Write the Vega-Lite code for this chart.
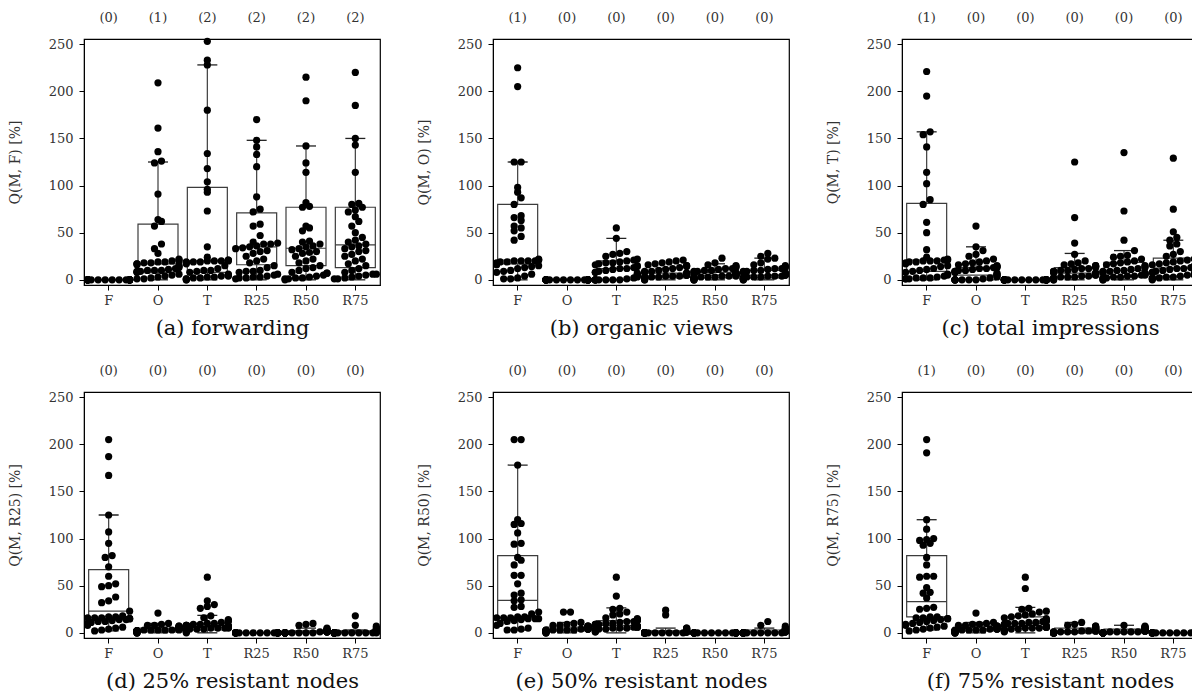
{
"$schema": "https://vega.github.io/schema/vega-lite/v6.json",
"autosize": {"type": "pad"},
"padding": {"left": 7, "top": 11, "right": 0, "bottom": 0},
"background": "white",
"datasets": {"g": [
{"p":"a","c":"F","o":0,"q1":0,"med":0,"q3":0,"lo":0,"hi":0,"v":[0,0,0,0,0,0,0,0,0,0,0,0,0,0,0,0,0,0,0,0,0,0,0,0]},
{"p":"a","c":"O","o":1,"q1":7.5,"med":17,"q3":59,"lo":0,"hi":125,"v":[209,161,136,126,124,91,64,62,57,38,33,28,22,21,20,20,19,19,18,18,17,17,16,15,14,13,12,11,10,10,10,9,9,8,8,6,5,4,3,2,1,1]},
{"p":"a","c":"T","o":2,"q1":8,"med":20,"q3":98,"lo":0,"hi":228,"v":[253,233,228,180,134,118,104,96,93,73,35,24,21,21,20,20,20,20,19,19,19,18,17,15,12,10,10,9,8,6,5,5,4,4,3,3,2,2,1,1,0,0]},
{"p":"a","c":"R25","o":2,"q1":16,"med":35,"q3":71,"lo":0,"hi":148,"v":[170,148,141,133,120,88,75,72,59,57,47,40,39,38,38,36,35,34,33,31,30,28,25,22,20,18,15,13,10,9,9,8,6,5,4,3,3,2,2,1]},
{"p":"a","c":"R50","o":2,"q1":15,"med":33.5,"q3":77,"lo":0,"hi":142,"v":[215,190,142,124,114,82,78,77,57,55,52,41,40,38,36,35,33,32,30,29,28,25,22,20,18,15,13,12,10,8,7,7,5,4,3,2,2,1,1,0]},
{"p":"a","c":"R75","o":2,"q1":13,"med":37,"q3":77,"lo":0,"hi":150,"v":[220,185,150,143,114,81,80,77,74,72,67,62,57,50,45,42,40,38,36,35,33,31,30,27,25,22,20,17,15,12,10,8,6,6,5,4,3,2,1,1]},
{"p":"b","c":"F","o":1,"q1":17,"med":21,"q3":80,"lo":0,"hi":125,"v":[225,205,125,125,98,93,87,80,68,66,63,57,55,52,46,42,22,21,21,20,20,20,20,19,19,18,17,16,15,14,13,12,10,9,8,6,4,2,1,1]},
{"p":"b","c":"O","o":0,"q1":0,"med":0,"q3":0,"lo":0,"hi":0,"v":[0,0,0,0,0,0,0,0,0,0,0,0,0,0,0,0,0,0,0,0,0,0,0,0]},
{"p":"b","c":"T","o":0,"q1":0,"med":12,"q3":20,"lo":0,"hi":44,"v":[55,44,30,28,27,25,22,21,20,19,18,18,17,16,15,14,13,12,12,11,10,9,8,8,7,6,5,4,3,2,1,0,0,0,0,0,0,0,0,0]},
{"p":"b","c":"R25","o":0,"q1":2,"med":4,"q3":7,"lo":0,"hi":12,"v":[21,20,19,18,17,16,15,15,14,13,12,11,10,9,9,8,8,7,7,6,6,6,5,5,5,5,4,4,4,3,3,3,2,2,2,1,1,1,0,0]},
{"p":"b","c":"R50","o":0,"q1":2,"med":5,"q3":8,"lo":0,"hi":17,"v":[23,18,16,15,14,13,12,12,11,10,10,9,9,8,8,7,7,7,6,6,6,5,5,5,4,4,4,3,3,3,3,2,2,2,1,1,1,0,0,0]},
{"p":"b","c":"R75","o":0,"q1":2,"med":5,"q3":10,"lo":0,"hi":23,"v":[28,25,23,22,18,16,15,14,13,12,12,11,10,10,9,9,8,8,7,7,6,6,6,5,5,5,4,4,4,3,3,3,2,2,2,1,1,1,0,0]},
{"p":"c","c":"F","o":1,"q1":9,"med":21,"q3":81,"lo":0,"hi":157,"v":[221,195,157,154,141,114,102,85,80,61,50,32,24,22,21,21,20,20,20,19,19,18,17,15,14,12,11,10,9,8,6,5,4,3,2,2,2,1,1,1]},
{"p":"c","c":"O","o":0,"q1":0,"med":5,"q3":13,"lo":0,"hi":35,"v":[57,35,31,27,25,22,20,19,18,17,16,15,14,14,13,13,12,12,11,10,10,9,9,8,8,7,6,5,4,3,2,1,0,0,0,0,0,0,0,0]},
{"p":"c","c":"T","o":0,"q1":0,"med":0,"q3":0,"lo":0,"hi":0,"v":[0,0,0,0,0,0,0,0,0,0,0,0,0,0,0,0,0,0,0,0,0,0,0,0]},
{"p":"c","c":"R25","o":0,"q1":3,"med":7,"q3":13,"lo":0,"hi":28,"v":[125,66,39,27,20,18,17,16,15,15,14,14,13,12,12,11,10,10,9,9,8,8,8,7,7,6,6,5,5,4,4,3,3,3,2,2,1,1,0,0]},
{"p":"c","c":"R50","o":0,"q1":3,"med":10,"q3":18.5,"lo":0,"hi":31,"v":[135,73,42,31,26,25,24,22,20,19,18,17,16,15,14,13,12,11,10,10,9,9,8,8,7,7,6,6,5,5,4,4,3,3,2,2,1,1,0,0]},
{"p":"c","c":"R75","o":0,"q1":4,"med":12.5,"q3":23,"lo":0,"hi":42,"v":[129,75,51,45,42,38,36,30,27,25,22,21,20,19,18,17,16,15,14,13,12,12,11,10,9,8,8,7,6,6,5,5,4,3,3,2,2,1,1,0]},
{"p":"d","c":"F","o":0,"q1":14,"med":23,"q3":67,"lo":2,"hi":125,"v":[205,187,167,125,107,95,82,80,70,60,52,50,49,38,34,32,23,18,17,17,16,16,16,15,15,15,14,14,13,12,12,11,10,9,8,6,5,4,3,2]},
{"p":"d","c":"O","o":0,"q1":1,"med":3,"q3":5,"lo":0,"hi":10,"v":[21,10,9,8,8,7,7,6,6,6,5,5,5,5,4,4,4,4,4,3,3,3,3,3,3,2,2,2,2,2,2,1,1,1,1,1,0,0,0,0]},
{"p":"d","c":"T","o":0,"q1":3,"med":6,"q3":10,"lo":0,"hi":18.5,"v":[59,34,30,28,26,18,16,14,13,12,11,10,10,9,9,8,8,8,7,7,7,6,6,6,6,5,5,5,5,4,4,4,3,3,3,2,2,1,1,0]},
{"p":"d","c":"R25","o":0,"q1":0,"med":0,"q3":0,"lo":0,"hi":0,"v":[0,0,0,0,0,0,0,0,0,0,0,0,0,0,0,0,0,0,0,0,0,0,0,0]},
{"p":"d","c":"R50","o":0,"q1":0,"med":1,"q3":2,"lo":0,"hi":5,"v":[10,9,8,5,4,3,3,3,2,2,2,2,2,1,1,1,1,1,1,1,0,0,0,0,0,0,0,0,0,0,0,0,0,0,0,0,0,0,0,0]},
{"p":"d","c":"R75","o":0,"q1":0,"med":1,"q3":2,"lo":0,"hi":3,"v":[18,8,7,5,4,3,3,2,2,2,2,1,1,1,1,1,1,0,0,0,0,0,0,0,0,0,0,0,0,0,0,0,0,0,0,0,0,0,0,0]},
{"p":"e","c":"F","o":0,"q1":16,"med":34.5,"q3":82,"lo":3,"hi":178,"v":[205,205,178,120,116,115,106,95,94,80,77,72,61,61,52,42,40,35,34,28,27,22,20,17,17,16,16,16,15,15,15,14,13,12,10,8,5,4,3,3]},
{"p":"e","c":"O","o":0,"q1":2,"med":4,"q3":6,"lo":0,"hi":11,"v":[22,22,11,10,9,8,8,7,7,7,6,6,6,5,5,5,5,4,4,4,4,4,3,3,3,3,3,3,2,2,2,2,2,1,1,1,1,0,0,0]},
{"p":"e","c":"T","o":0,"q1":4,"med":8,"q3":13,"lo":0,"hi":26.5,"v":[59,39,26,25,22,20,19,16,15,14,14,13,13,12,12,11,10,10,9,9,9,8,8,8,7,7,7,6,6,6,5,5,5,4,4,3,3,2,1,1]},
{"p":"e","c":"R25","o":0,"q1":0,"med":1,"q3":2,"lo":0,"hi":5,"v":[24,19,5,5,4,4,3,3,2,2,2,2,1,1,1,1,1,1,0,0,0,0,0,0,0,0,0,0,0,0,0,0,0,0,0,0,0,0,0,0]},
{"p":"e","c":"R50","o":0,"q1":0,"med":0,"q3":0,"lo":0,"hi":0,"v":[0,0,0,0,0,0,0,0,0,0,0,0,0,0,0,0,0,0,0,0,0,0,0,0]},
{"p":"e","c":"R75","o":0,"q1":0,"med":1,"q3":3,"lo":0,"hi":5,"v":[12,8,7,5,4,4,3,3,3,2,2,2,2,1,1,1,1,1,0,0,0,0,0,0,0,0,0,0,0,0,0,0,0,0,0,0,0,0,0,0]},
{"p":"f","c":"F","o":1,"q1":17,"med":33,"q3":82,"lo":3,"hi":120,"v":[205,191,120,110,100,99,98,95,93,80,72,60,60,59,48,43,42,37,27,26,25,17,17,16,16,15,15,14,13,12,11,10,9,8,7,6,5,4,3,2]},
{"p":"f","c":"O","o":0,"q1":2,"med":4,"q3":7,"lo":0,"hi":11,"v":[21,11,10,9,9,8,8,7,7,7,6,6,6,6,5,5,5,5,4,4,4,4,3,3,3,3,3,2,2,2,2,2,1,1,1,1,0,0,0,0]},
{"p":"f","c":"T","o":0,"q1":5,"med":10,"q3":17,"lo":0,"hi":27,"v":[59,47,26,25,23,22,20,19,18,17,16,15,14,13,12,12,11,11,10,10,10,9,9,8,8,7,7,6,6,6,5,5,5,4,4,3,3,2,2,1]},
{"p":"f","c":"R25","o":0,"q1":0,"med":2,"q3":5,"lo":0,"hi":11,"v":[11,9,8,7,7,6,6,5,5,4,4,4,3,3,3,3,2,2,2,2,2,1,1,1,1,1,0,0,0,0,0,0,0,0,0,0,0,0,0,0]},
{"p":"f","c":"R50","o":0,"q1":0,"med":1,"q3":4,"lo":0,"hi":8,"v":[8,7,6,6,5,5,4,4,4,3,3,3,3,2,2,2,2,2,1,1,1,1,1,0,0,0,0,0,0,0,0,0,0,0,0,0,0,0,0,0]},
{"p":"f","c":"R75","o":0,"q1":0,"med":0,"q3":0,"lo":0,"hi":0,"v":[0,0,0,0,0,0,0,0,0,0,0,0,0,0,0,0,0,0,0,0,0,0,0,0]}
]},
"data": {"name": "g"},
"columns": 3,
"spacing": {"row": 107, "column": 113},
"bounds": "flush",
"concat": [
{"width":296,"height":246,"transform":[{"filter":"datum.p === 'a'"}],
 "encoding":{"x":{"field":"c","type":"nominal","scale":{"domain":["F","O","T","R25","R50","R75"],"paddingInner":0,"paddingOuter":0},"axis":{"title":"(a) forwarding","labelAngle":0}}},
 "layer":[
  {"mark":{"type":"bar","width":40,"fill":"white","fillOpacity":0,"stroke":"#3c3c3c","strokeWidth":1.2},"encoding":{"y":{"field":"q1","type":"quantitative","scale":{"domain":[-5.5,255.5],"nice":false,"zero":false},"title":"Q(M, F) [%]"},"y2":{"field":"q3"}}},
  {"mark":{"type":"rule","color":"#3c3c3c","strokeWidth":1.2},"encoding":{"y":{"field":"q3","type":"quantitative","title":"Q(M, F) [%]"},"y2":{"field":"hi"}}},
  {"mark":{"type":"rule","color":"#3c3c3c","strokeWidth":1.2},"encoding":{"y":{"field":"lo","type":"quantitative","title":"Q(M, F) [%]"},"y2":{"field":"q1"}}},
  {"mark":{"type":"tick","size":20,"thickness":1.3,"color":"#222","opacity":1},"encoding":{"y":{"field":"hi","type":"quantitative","title":"Q(M, F) [%]"}}},
  {"mark":{"type":"tick","size":20,"thickness":1.3,"color":"#222","opacity":1},"encoding":{"y":{"field":"lo","type":"quantitative","title":"Q(M, F) [%]"}}},
  {"mark":{"type":"tick","size":40,"thickness":1.2,"color":"#3c3c3c","opacity":1},"encoding":{"y":{"field":"med","type":"quantitative","title":"Q(M, F) [%]"}}},
  {"transform":[{"flatten":["v"]},{"bin":{"step":8,"extent":[-4,260]},"field":"v","as":"vb"},{"window":[{"op":"row_number","as":"rn"}],"groupby":["c","vb"],"sort":[{"field":"v","order":"ascending"}]},{"joinaggregate":[{"op":"count","as":"cnt"}],"groupby":["c","vb"]},{"calculate":"datum.rn - 1 - (datum.cnt - 1) / 2","as":"off"}],
   "mark":{"type":"circle","size":52,"color":"#000","opacity":1},
   "encoding":{"y":{"field":"v","type":"quantitative","title":"Q(M, F) [%]"},"xOffset":{"field":"off","type":"quantitative","scale":{"domain":[-3,3],"range":[3.65,45.65],"clamp":true}}}},
  {"transform":[{"calculate":"'(' + datum.o + ')'","as":"lab"}],"mark":{"type":"text","fontSize":13,"color":"#333"},"encoding":{"y":{"datum":278,"type":"quantitative"},"text":{"field":"lab"}}}
 ]},
{"width":296,"height":246,"transform":[{"filter":"datum.p === 'b'"}],
 "encoding":{"x":{"field":"c","type":"nominal","scale":{"domain":["F","O","T","R25","R50","R75"],"paddingInner":0,"paddingOuter":0},"axis":{"title":"(b) organic views","labelAngle":0}}},
 "layer":[
  {"mark":{"type":"bar","width":40,"fill":"white","fillOpacity":0,"stroke":"#3c3c3c","strokeWidth":1.2},"encoding":{"y":{"field":"q1","type":"quantitative","scale":{"domain":[-5.5,255.5],"nice":false,"zero":false},"title":"Q(M, O) [%]"},"y2":{"field":"q3"}}},
  {"mark":{"type":"rule","color":"#3c3c3c","strokeWidth":1.2},"encoding":{"y":{"field":"q3","type":"quantitative","title":"Q(M, O) [%]"},"y2":{"field":"hi"}}},
  {"mark":{"type":"rule","color":"#3c3c3c","strokeWidth":1.2},"encoding":{"y":{"field":"lo","type":"quantitative","title":"Q(M, O) [%]"},"y2":{"field":"q1"}}},
  {"mark":{"type":"tick","size":20,"thickness":1.3,"color":"#222","opacity":1},"encoding":{"y":{"field":"hi","type":"quantitative","title":"Q(M, O) [%]"}}},
  {"mark":{"type":"tick","size":20,"thickness":1.3,"color":"#222","opacity":1},"encoding":{"y":{"field":"lo","type":"quantitative","title":"Q(M, O) [%]"}}},
  {"mark":{"type":"tick","size":40,"thickness":1.2,"color":"#3c3c3c","opacity":1},"encoding":{"y":{"field":"med","type":"quantitative","title":"Q(M, O) [%]"}}},
  {"transform":[{"flatten":["v"]},{"bin":{"step":8,"extent":[-4,260]},"field":"v","as":"vb"},{"window":[{"op":"row_number","as":"rn"}],"groupby":["c","vb"],"sort":[{"field":"v","order":"ascending"}]},{"joinaggregate":[{"op":"count","as":"cnt"}],"groupby":["c","vb"]},{"calculate":"datum.rn - 1 - (datum.cnt - 1) / 2","as":"off"}],
   "mark":{"type":"circle","size":52,"color":"#000","opacity":1},
   "encoding":{"y":{"field":"v","type":"quantitative","title":"Q(M, O) [%]"},"xOffset":{"field":"off","type":"quantitative","scale":{"domain":[-3,3],"range":[3.65,45.65],"clamp":true}}}},
  {"transform":[{"calculate":"'(' + datum.o + ')'","as":"lab"}],"mark":{"type":"text","fontSize":13,"color":"#333"},"encoding":{"y":{"datum":278,"type":"quantitative"},"text":{"field":"lab"}}}
 ]},
{"width":296,"height":246,"transform":[{"filter":"datum.p === 'c'"}],
 "encoding":{"x":{"field":"c","type":"nominal","scale":{"domain":["F","O","T","R25","R50","R75"],"paddingInner":0,"paddingOuter":0},"axis":{"title":"(c) total impressions","labelAngle":0}}},
 "layer":[
  {"mark":{"type":"bar","width":40,"fill":"white","fillOpacity":0,"stroke":"#3c3c3c","strokeWidth":1.2},"encoding":{"y":{"field":"q1","type":"quantitative","scale":{"domain":[-5.5,255.5],"nice":false,"zero":false},"title":"Q(M, T) [%]"},"y2":{"field":"q3"}}},
  {"mark":{"type":"rule","color":"#3c3c3c","strokeWidth":1.2},"encoding":{"y":{"field":"q3","type":"quantitative","title":"Q(M, T) [%]"},"y2":{"field":"hi"}}},
  {"mark":{"type":"rule","color":"#3c3c3c","strokeWidth":1.2},"encoding":{"y":{"field":"lo","type":"quantitative","title":"Q(M, T) [%]"},"y2":{"field":"q1"}}},
  {"mark":{"type":"tick","size":20,"thickness":1.3,"color":"#222","opacity":1},"encoding":{"y":{"field":"hi","type":"quantitative","title":"Q(M, T) [%]"}}},
  {"mark":{"type":"tick","size":20,"thickness":1.3,"color":"#222","opacity":1},"encoding":{"y":{"field":"lo","type":"quantitative","title":"Q(M, T) [%]"}}},
  {"mark":{"type":"tick","size":40,"thickness":1.2,"color":"#3c3c3c","opacity":1},"encoding":{"y":{"field":"med","type":"quantitative","title":"Q(M, T) [%]"}}},
  {"transform":[{"flatten":["v"]},{"bin":{"step":8,"extent":[-4,260]},"field":"v","as":"vb"},{"window":[{"op":"row_number","as":"rn"}],"groupby":["c","vb"],"sort":[{"field":"v","order":"ascending"}]},{"joinaggregate":[{"op":"count","as":"cnt"}],"groupby":["c","vb"]},{"calculate":"datum.rn - 1 - (datum.cnt - 1) / 2","as":"off"}],
   "mark":{"type":"circle","size":52,"color":"#000","opacity":1},
   "encoding":{"y":{"field":"v","type":"quantitative","title":"Q(M, T) [%]"},"xOffset":{"field":"off","type":"quantitative","scale":{"domain":[-3,3],"range":[3.65,45.65],"clamp":true}}}},
  {"transform":[{"calculate":"'(' + datum.o + ')'","as":"lab"}],"mark":{"type":"text","fontSize":13,"color":"#333"},"encoding":{"y":{"datum":278,"type":"quantitative"},"text":{"field":"lab"}}}
 ]},
{"width":296,"height":246,"transform":[{"filter":"datum.p === 'd'"}],
 "encoding":{"x":{"field":"c","type":"nominal","scale":{"domain":["F","O","T","R25","R50","R75"],"paddingInner":0,"paddingOuter":0},"axis":{"title":"(d) 25% resistant nodes","labelAngle":0}}},
 "layer":[
  {"mark":{"type":"bar","width":40,"fill":"white","fillOpacity":0,"stroke":"#3c3c3c","strokeWidth":1.2},"encoding":{"y":{"field":"q1","type":"quantitative","scale":{"domain":[-5.5,255.5],"nice":false,"zero":false},"title":"Q(M, R25) [%]"},"y2":{"field":"q3"}}},
  {"mark":{"type":"rule","color":"#3c3c3c","strokeWidth":1.2},"encoding":{"y":{"field":"q3","type":"quantitative","title":"Q(M, R25) [%]"},"y2":{"field":"hi"}}},
  {"mark":{"type":"rule","color":"#3c3c3c","strokeWidth":1.2},"encoding":{"y":{"field":"lo","type":"quantitative","title":"Q(M, R25) [%]"},"y2":{"field":"q1"}}},
  {"mark":{"type":"tick","size":20,"thickness":1.3,"color":"#222","opacity":1},"encoding":{"y":{"field":"hi","type":"quantitative","title":"Q(M, R25) [%]"}}},
  {"mark":{"type":"tick","size":20,"thickness":1.3,"color":"#222","opacity":1},"encoding":{"y":{"field":"lo","type":"quantitative","title":"Q(M, R25) [%]"}}},
  {"mark":{"type":"tick","size":40,"thickness":1.2,"color":"#3c3c3c","opacity":1},"encoding":{"y":{"field":"med","type":"quantitative","title":"Q(M, R25) [%]"}}},
  {"transform":[{"flatten":["v"]},{"bin":{"step":8,"extent":[-4,260]},"field":"v","as":"vb"},{"window":[{"op":"row_number","as":"rn"}],"groupby":["c","vb"],"sort":[{"field":"v","order":"ascending"}]},{"joinaggregate":[{"op":"count","as":"cnt"}],"groupby":["c","vb"]},{"calculate":"datum.rn - 1 - (datum.cnt - 1) / 2","as":"off"}],
   "mark":{"type":"circle","size":52,"color":"#000","opacity":1},
   "encoding":{"y":{"field":"v","type":"quantitative","title":"Q(M, R25) [%]"},"xOffset":{"field":"off","type":"quantitative","scale":{"domain":[-3,3],"range":[3.65,45.65],"clamp":true}}}},
  {"transform":[{"calculate":"'(' + datum.o + ')'","as":"lab"}],"mark":{"type":"text","fontSize":13,"color":"#333"},"encoding":{"y":{"datum":278,"type":"quantitative"},"text":{"field":"lab"}}}
 ]},
{"width":296,"height":246,"transform":[{"filter":"datum.p === 'e'"}],
 "encoding":{"x":{"field":"c","type":"nominal","scale":{"domain":["F","O","T","R25","R50","R75"],"paddingInner":0,"paddingOuter":0},"axis":{"title":"(e) 50% resistant nodes","labelAngle":0}}},
 "layer":[
  {"mark":{"type":"bar","width":40,"fill":"white","fillOpacity":0,"stroke":"#3c3c3c","strokeWidth":1.2},"encoding":{"y":{"field":"q1","type":"quantitative","scale":{"domain":[-5.5,255.5],"nice":false,"zero":false},"title":"Q(M, R50) [%]"},"y2":{"field":"q3"}}},
  {"mark":{"type":"rule","color":"#3c3c3c","strokeWidth":1.2},"encoding":{"y":{"field":"q3","type":"quantitative","title":"Q(M, R50) [%]"},"y2":{"field":"hi"}}},
  {"mark":{"type":"rule","color":"#3c3c3c","strokeWidth":1.2},"encoding":{"y":{"field":"lo","type":"quantitative","title":"Q(M, R50) [%]"},"y2":{"field":"q1"}}},
  {"mark":{"type":"tick","size":20,"thickness":1.3,"color":"#222","opacity":1},"encoding":{"y":{"field":"hi","type":"quantitative","title":"Q(M, R50) [%]"}}},
  {"mark":{"type":"tick","size":20,"thickness":1.3,"color":"#222","opacity":1},"encoding":{"y":{"field":"lo","type":"quantitative","title":"Q(M, R50) [%]"}}},
  {"mark":{"type":"tick","size":40,"thickness":1.2,"color":"#3c3c3c","opacity":1},"encoding":{"y":{"field":"med","type":"quantitative","title":"Q(M, R50) [%]"}}},
  {"transform":[{"flatten":["v"]},{"bin":{"step":8,"extent":[-4,260]},"field":"v","as":"vb"},{"window":[{"op":"row_number","as":"rn"}],"groupby":["c","vb"],"sort":[{"field":"v","order":"ascending"}]},{"joinaggregate":[{"op":"count","as":"cnt"}],"groupby":["c","vb"]},{"calculate":"datum.rn - 1 - (datum.cnt - 1) / 2","as":"off"}],
   "mark":{"type":"circle","size":52,"color":"#000","opacity":1},
   "encoding":{"y":{"field":"v","type":"quantitative","title":"Q(M, R50) [%]"},"xOffset":{"field":"off","type":"quantitative","scale":{"domain":[-3,3],"range":[3.65,45.65],"clamp":true}}}},
  {"transform":[{"calculate":"'(' + datum.o + ')'","as":"lab"}],"mark":{"type":"text","fontSize":13,"color":"#333"},"encoding":{"y":{"datum":278,"type":"quantitative"},"text":{"field":"lab"}}}
 ]},
{"width":296,"height":246,"transform":[{"filter":"datum.p === 'f'"}],
 "encoding":{"x":{"field":"c","type":"nominal","scale":{"domain":["F","O","T","R25","R50","R75"],"paddingInner":0,"paddingOuter":0},"axis":{"title":"(f) 75% resistant nodes","labelAngle":0}}},
 "layer":[
  {"mark":{"type":"bar","width":40,"fill":"white","fillOpacity":0,"stroke":"#3c3c3c","strokeWidth":1.2},"encoding":{"y":{"field":"q1","type":"quantitative","scale":{"domain":[-5.5,255.5],"nice":false,"zero":false},"title":"Q(M, R75) [%]"},"y2":{"field":"q3"}}},
  {"mark":{"type":"rule","color":"#3c3c3c","strokeWidth":1.2},"encoding":{"y":{"field":"q3","type":"quantitative","title":"Q(M, R75) [%]"},"y2":{"field":"hi"}}},
  {"mark":{"type":"rule","color":"#3c3c3c","strokeWidth":1.2},"encoding":{"y":{"field":"lo","type":"quantitative","title":"Q(M, R75) [%]"},"y2":{"field":"q1"}}},
  {"mark":{"type":"tick","size":20,"thickness":1.3,"color":"#222","opacity":1},"encoding":{"y":{"field":"hi","type":"quantitative","title":"Q(M, R75) [%]"}}},
  {"mark":{"type":"tick","size":20,"thickness":1.3,"color":"#222","opacity":1},"encoding":{"y":{"field":"lo","type":"quantitative","title":"Q(M, R75) [%]"}}},
  {"mark":{"type":"tick","size":40,"thickness":1.2,"color":"#3c3c3c","opacity":1},"encoding":{"y":{"field":"med","type":"quantitative","title":"Q(M, R75) [%]"}}},
  {"transform":[{"flatten":["v"]},{"bin":{"step":8,"extent":[-4,260]},"field":"v","as":"vb"},{"window":[{"op":"row_number","as":"rn"}],"groupby":["c","vb"],"sort":[{"field":"v","order":"ascending"}]},{"joinaggregate":[{"op":"count","as":"cnt"}],"groupby":["c","vb"]},{"calculate":"datum.rn - 1 - (datum.cnt - 1) / 2","as":"off"}],
   "mark":{"type":"circle","size":52,"color":"#000","opacity":1},
   "encoding":{"y":{"field":"v","type":"quantitative","title":"Q(M, R75) [%]"},"xOffset":{"field":"off","type":"quantitative","scale":{"domain":[-3,3],"range":[3.65,45.65],"clamp":true}}}},
  {"transform":[{"calculate":"'(' + datum.o + ')'","as":"lab"}],"mark":{"type":"text","fontSize":13,"color":"#333"},"encoding":{"y":{"datum":278,"type":"quantitative"},"text":{"field":"lab"}}}
 ]}
],
"config": {
 "font": "DejaVu Serif",
 "view": {"stroke": "#000", "strokeWidth": 1.2},
 "axis": {"labelFont": "DejaVu Serif", "titleFont": "DejaVu Serif", "labelFontSize": 13, "labelColor": "#333", "tickColor": "#000", "domainColor": "#000", "tickSize": 5, "grid": false, "titleFontWeight": "normal"},
 "axisX": {"titleFontSize": 21, "titleColor": "#111", "titlePadding": 10, "labelPadding": 4},
 "axisY": {"titleFontSize": 14, "titleColor": "#333", "titlePadding": 26, "labelPadding": 6, "tickCount": 6}
}
}
